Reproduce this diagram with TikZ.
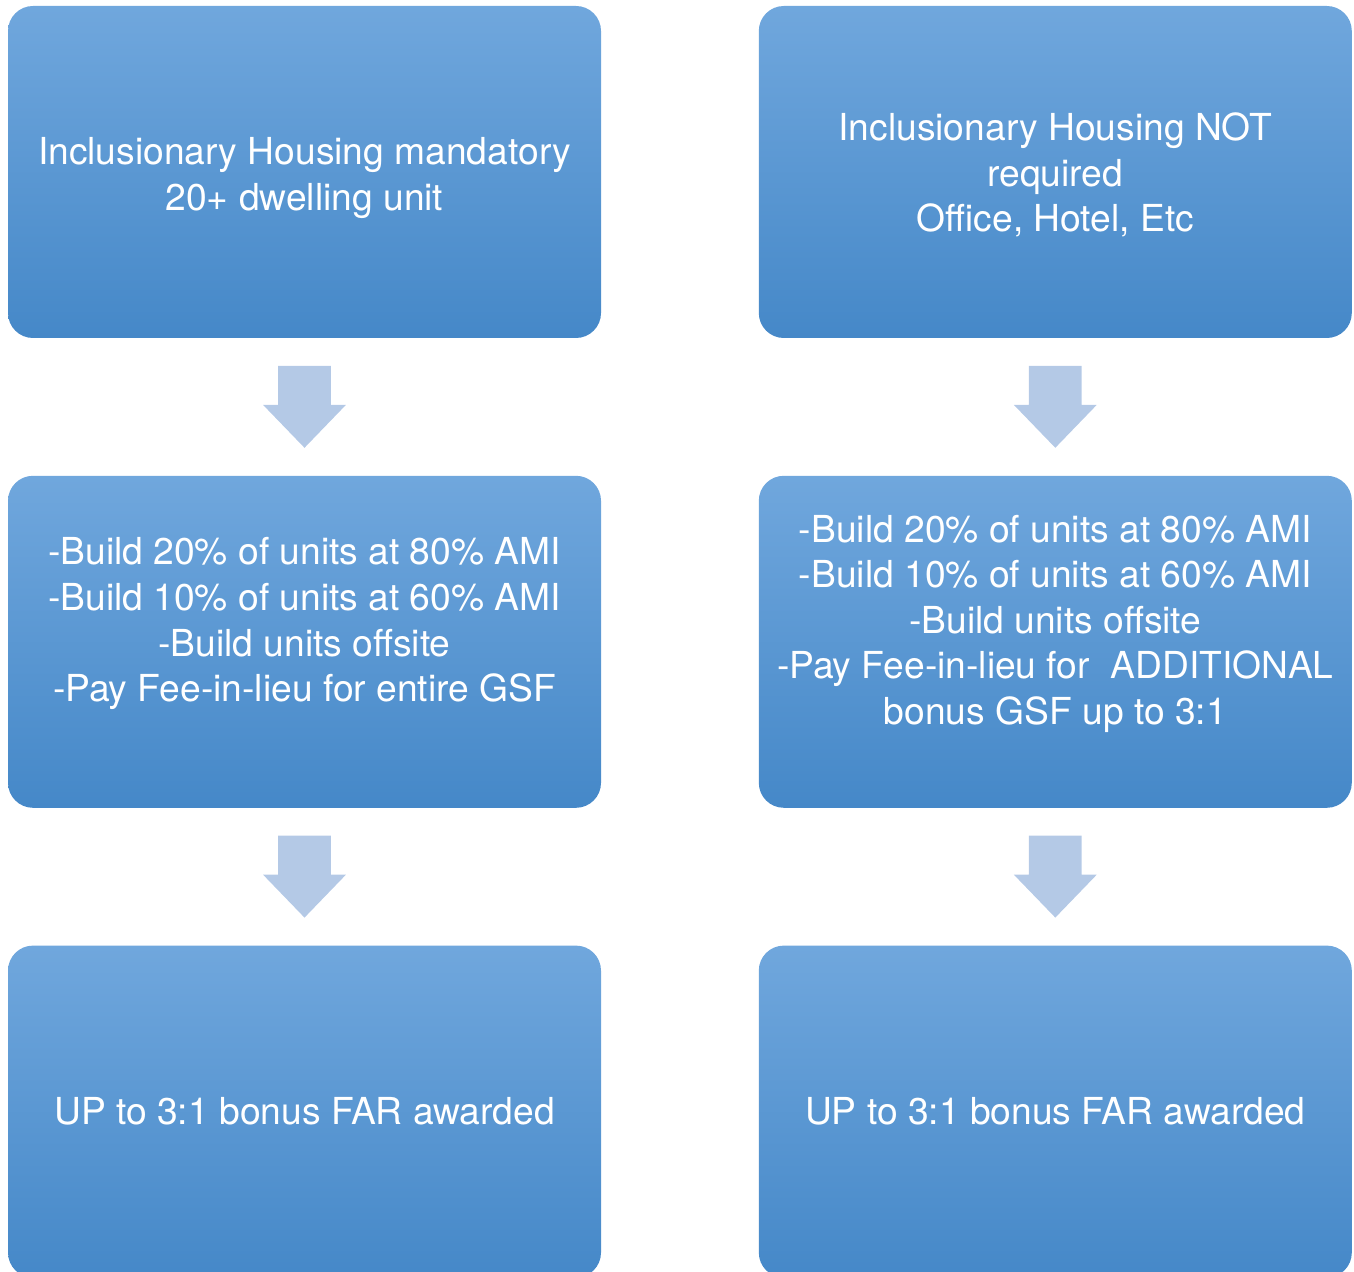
\documentclass[tikz,border=0pt]{standalone}
\usepackage{fontspec}
\setmainfont{TeX Gyre Heros}
\usetikzlibrary{positioning, shapes.arrows, calc}
\definecolor{boxtop}{HTML}{70A7DD}
\definecolor{boxbot}{HTML}{4588C8}
\definecolor{arrowfill}{HTML}{B4C9E6}
\tikzset{
    stage/.style={
        rectangle, rounded corners=12.5pt,
        top color=boxtop, bottom color=boxbot, draw=none,
        minimum width=296.5pt, minimum height=166pt,
        text=white, align=center,
        font=\fontsize{18.6}{22.8}\selectfont
    },
    stagetext/.style={
        text=white, align=center, inner sep=0pt,
        font=\fontsize{18.6}{22.8}\selectfont
    },
    downarrow/.style={
        single arrow, fill=arrowfill, draw=none,
        rotate=-90, inner xsep=0pt, inner ysep=13pt,
        minimum height=41pt, anchor=tail,
        single arrow head extend=7.5pt, single arrow tip angle=88
    }
}
\begin{document}
\begin{tikzpicture}[node distance=68.5pt and 78.5pt]
    \useasboundingbox (0,0) rectangle (677pt,-636pt);

    % left column
    \node[stage] (mand) at (152.25pt,-86pt) {};
    \node[stagetext] (mandtxt) at ([yshift=-3pt]mand.center)
        {Inclusionary Housing mandatory\\20+ dwelling unit};
    \node[stage, below=of mand] (mandopt) {};
    \node[stagetext] (mandopttxt) at ([yshift=9pt]mandopt.center)
        {-Build 20\% of units at 80\% AMI\\-Build 10\% of units at 60\% AMI\\
         -Build units offsite\\-Pay Fee-in-lieu for entire GSF};
    \node[stage, below=of mandopt] (mandfar) {UP to 3:1 bonus FAR awarded};

    % right column
    \node[stage, right=of mand] (notreq) {};
    \node[stagetext] (notreqtxt) at ([yshift=-1.5pt]notreq.center)
        {Inclusionary Housing NOT\\required\\Office, Hotel, Etc};
    \node[stage, below=of notreq] (notreqopt) {};
    \node[stagetext] (notreqopttxt) at ([yshift=9pt]notreqopt.center)
        {-Build 20\% of units at 80\% AMI\\-Build 10\% of units at 60\% AMI\\
         -Build units offsite\\-Pay Fee-in-lieu for\ \ ADDITIONAL\\bonus GSF up to 3:1};
    \node[stage, below=of notreqopt] (notreqfar) {UP to 3:1 bonus FAR awarded};

    % arrows
    \node[downarrow] (a1) at ([yshift=-13.5pt]mand.south) {};
    \node[downarrow] (a2) at ([yshift=-13.5pt]mandopt.south) {};
    \node[downarrow] (a3) at ([yshift=-13.5pt]notreq.south) {};
    \node[downarrow] (a4) at ([yshift=-13.5pt]notreqopt.south) {};
\end{tikzpicture}
\end{document}
